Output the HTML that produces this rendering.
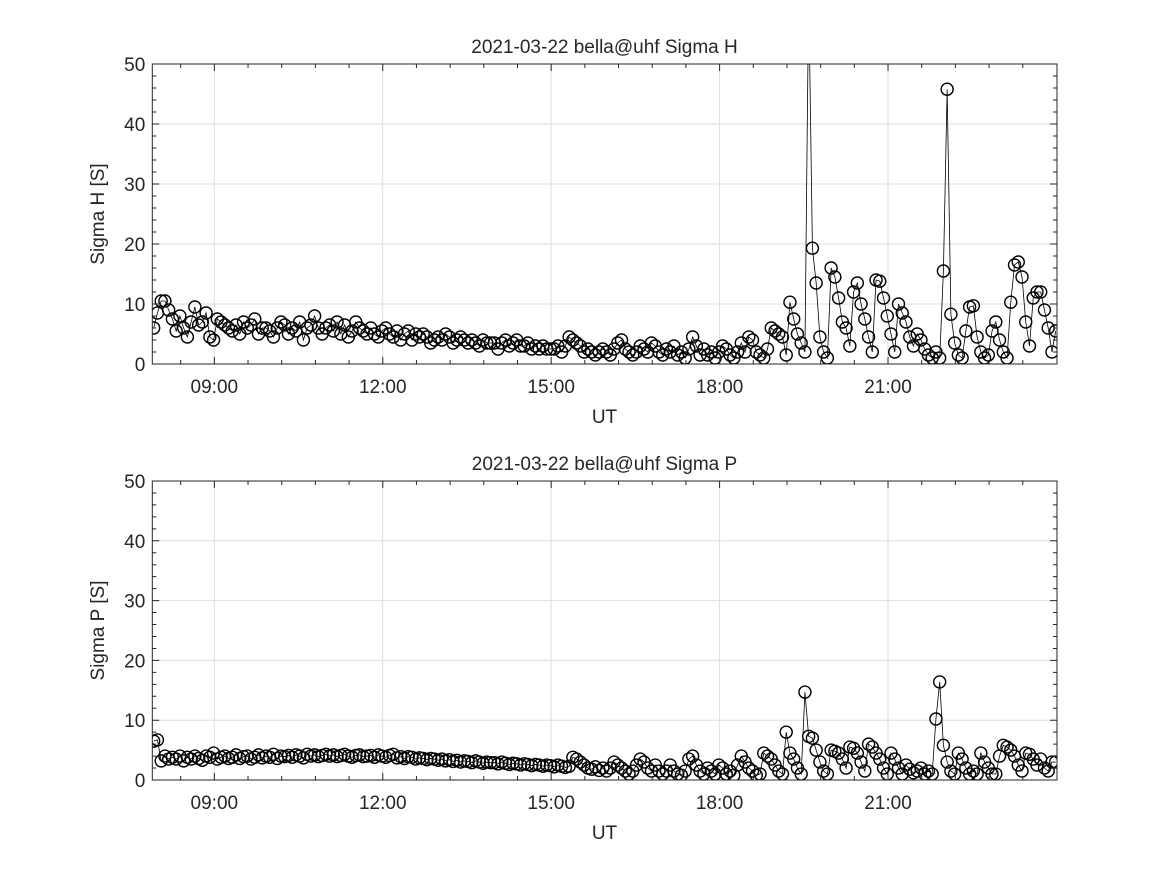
<!DOCTYPE html>
<html><head><meta charset="utf-8"><style>
body{margin:0;background:#fff;}
svg text{font-family:"Liberation Sans","DejaVu Sans",sans-serif;fill:#262626;}
</style></head><body>
<svg id="fig" width="1167" height="875" viewBox="0 0 1167 875" xmlns="http://www.w3.org/2000/svg">
<rect width="1167" height="875" fill="#fff"/>
</svg>
<script>
// data: time start/step (hours), values
const t0 = 7.92;
const dtH = 4/60;
const sigmaH = [
6,8.5,10.5,10.5,9,7.5,5.5,8,6,4.5,7,9.5,6.5,7,8.5,4.5,
4,7.5,7,6.5,6,5.5,6.5,5,7,6,6.5,7.5,5,6,6,
5.5,4.5,6,7,6.5,5,6,5.5,7,4,6,6.5,8,6,5,
6,6.5,5.5,7,5,6.5,4.5,5.5,7,6,5.5,5,6,5,4.5,
5.5,6,5,4.5,5.5,4,5,5.5,4,5,4.5,5,4.5,3.5,4,
4.5,4,5,4.5,3.5,4,4.5,4,3.5,4,3.5,3,4,3.5,3.5,
3.5,2.5,3.5,4,3,3.5,4,3,3,3.5,2.5,3,2.5,3,2.5,
2.5,2.5,3,2,3,4.5,4,3.5,3,2,2.5,2,1.5,2,2.5,
2,1.5,2.5,3.5,4,2.5,2,1.5,2,3,2.5,2,3.5,3,2,
1.5,2.5,2,3,1.5,2,1,2.5,4.5,3,1.5,2.5,1.5,2,1,
2,3,2.5,1.5,1,2,3.5,2,4.5,4,2,1.5,1,2.5,6,
5.5,5,4.5,1.5,10.3,7.5,5,3.5,2,62,19.3,13.5,4.5,2,1,
16,14.5,11,7,6,3,12,13.5,10,7.5,4.5,2,14,13.8,11,
8,5,2,10,8.5,7,4.5,3,5,4,2.5,1.5,1,2,1,
15.5,45.8,8.3,3.5,1.5,1,5.5,9.5,9.7,4.5,2,1,1.5,5.5,7,
4,2,1,10.3,16.5,17,14.5,7,3,11,12,12,9,6,2,5.5];
const sigmaP = [
6.5,6.7,3.2,4,3.5,3.8,3.5,4,3.2,3.8,3.5,4,3.6,3.3,4,3.8,
4.5,3.5,3.8,4,3.6,3.8,4.2,3.6,3.9,4,3.5,3.8,4.2,3.7,4,
3.8,4.3,3.6,4,3.9,4.1,3.8,4.2,4,3.7,4.3,4,4.2,3.9,4.1,
4.3,4,4.2,3.9,4.1,4.3,4,3.8,4.1,4.2,3.9,4,4.1,3.8,4.2,
4,3.8,4.1,4.3,3.7,3.9,3.6,3.9,3.8,3.5,3.7,3.6,3.4,3.6,3.5,
3.3,3.5,3.2,3.4,3.1,3.3,3,3.2,3.1,2.9,3.2,3,2.8,3,2.9,
2.9,2.7,3,2.8,2.6,2.8,2.7,2.5,2.7,2.6,2.4,2.6,2.5,2.3,2.5,
2.4,2.2,2.5,2.3,2.1,2.3,3.8,3.5,3,2.5,2,1.8,2.2,1.6,2,
1.5,2,3,2.5,2,1.5,1,1.5,2.5,3.5,3,2,1.5,2.5,1.5,
1,1.5,2.5,1.5,1,0.8,1.5,3.5,4,2.5,1.5,1,2,1.5,1,
2.5,2,1,1.5,0.8,2.5,4,3,2,1.5,0.8,1,4.5,4,3.5,
2.5,1.5,1,8,4.5,3.5,2,1,14.7,7.3,7,5,3,1.5,1,
5,4.8,4.5,3.5,2,5.5,5.3,4.5,3,1.5,6,5.5,4.5,3.5,2,
1,4.5,3.5,2,1,2.5,1.8,1.2,1.5,2,1,1.5,1,10.2,16.4,
5.8,3,1.5,1,4.5,3.5,2,1,1.5,1,4.5,3,2,1,1,
4,5.8,5.5,5,4,2.5,1.5,4.5,4.3,3.5,2.5,3.5,2,1.5,3,3];
const xTickHours = [9,12,15,18,21];
const xTickLabels = ["09:00","12:00","15:00","18:00","21:00"];
const yTicks = [0,10,20,30,40,50];

const NS = "http://www.w3.org/2000/svg";
const svg = document.getElementById('fig');
const X0 = 152.3, X1 = 1057, TMIN = 7.895, TMAX = 24.01;
function xs(t){ return X0 + (t - TMIN) / (TMAX - TMIN) * (X1 - X0); }
function mk(tag, attrs, parent){ const e = document.createElementNS(NS, tag); for (const k in attrs) e.setAttribute(k, attrs[k]); (parent||svg).appendChild(e); return e; }

function panel(id, top, bottom, vals, title, ylab){
  const ys = v => bottom - v / 50 * (bottom - top);
  const g = mk('g', {});
  
  
  // grid
  xTickHours.forEach(h => { const l = mk('line', {x1:xs(h), x2:xs(h), y1:top, y2:bottom, stroke:'#dedede', 'stroke-width':1}, g);   });
  yTicks.forEach(v => { const l = mk('line', {x1:X0, x2:X1, y1:ys(v), y2:ys(v), stroke:'#dedede', 'stroke-width':1}, g);   });
  // clip
  const cp = mk('clipPath', {id:'clip-'+id}, g);
  mk('rect', {x:X0, y:top, width:X1-X0, height:bottom-top}, cp);
  const dg = mk('g', {'clip-path':'url(#clip-'+id+')'}, g);
  
  
  let d = '';
  vals.forEach((v,i) => { d += (i ? 'L' : 'M') + xs(t0 + i*dtH).toFixed(2) + ',' + ys(v).toFixed(2); });
  const pl = mk('path', {d:d, fill:'none', stroke:'#000', 'stroke-width':0.8}, dg);
  
  
  vals.forEach((v,i) => {
    const c = mk('circle', {cx:xs(t0 + i*dtH), cy:ys(v), r:6, fill:'none', stroke:'#000', 'stroke-width':1.4}, dg);
    
    
  });
  // box
  const box = mk('rect', {x:X0, y:top, width:X1-X0, height:bottom-top, fill:'none', stroke:'#262626', 'stroke-width':1}, g);
  
  
  // x ticks
  let tk = '';
  for (let h = 7.8; h <= 24.01; h += 0.6) {
    const x = xs(h); if (x < X0 + 1 || x > X1 - 1) continue;
    const major = Math.abs(h - Math.round(h)) < 0.01 && Math.round(h) % 3 === 0;
    const L = major ? 7 : 4;
    tk += `M${x},${bottom}v${-L}M${x},${top}v${L}`;
  }
  for (let v = 2; v < 50; v += 2) {
    const L = v % 10 === 0 ? 7 : 4; const y = ys(v);
    tk += `M${X0},${y}h${L}M${X1},${y}h${-L}`;
  }
  mk('path', {d:tk, stroke:'#262626', 'stroke-width':1, fill:'none'}, g);
  xTickHours.forEach((h,i) => {
    const t = mk('text', {x:xs(h), y:bottom + 29, 'text-anchor':'middle', 'font-size':19}, g);
    t.textContent = xTickLabels[i];
    
    
  });
  yTicks.forEach(v => {
    const t = mk('text', {x:X0 - 7, y:ys(v) + 7, 'text-anchor':'end', 'font-size':19}, g);
    t.textContent = v;
    
    
  });
  const tt = mk('text', {x:604.5, y:top - 11, 'text-anchor':'middle', 'font-size':19}, g);
  tt.textContent = title;
  
  
  const xl = mk('text', {x:604.5, y:bottom + 59, 'text-anchor':'middle', 'font-size':19}, g);
  xl.textContent = 'UT';
  
  
  const yl = mk('text', {x:0, y:0, 'text-anchor':'middle', 'font-size':19, transform:`translate(104,${(top+bottom)/2}) rotate(-90)`}, g);
  yl.textContent = ylab;
  
  
}
panel('sigma-h', 64, 364, sigmaH, '2021-03-22  bella@uhf Sigma H', 'Sigma H [S]');
panel('sigma-p', 481, 780, sigmaP, '2021-03-22  bella@uhf Sigma P', 'Sigma P [S]');
</script>
</body></html>
